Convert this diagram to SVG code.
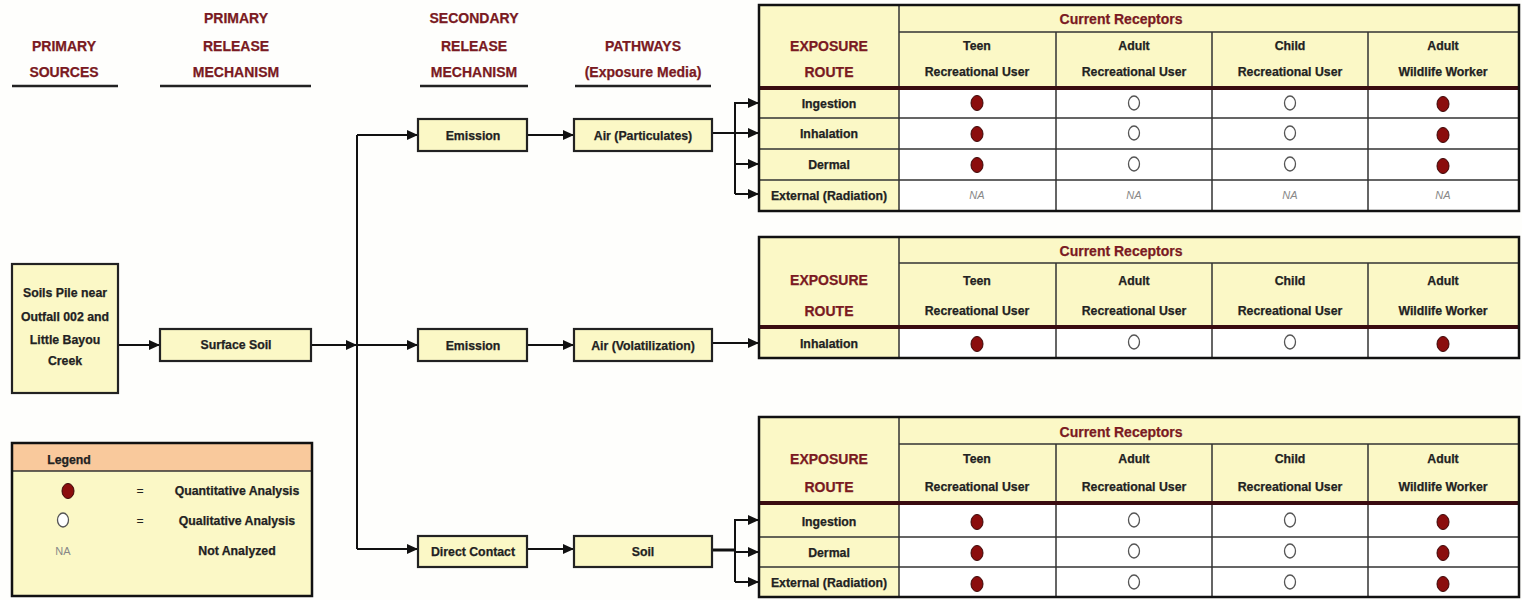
<svg xmlns="http://www.w3.org/2000/svg" width="1522" height="600" viewBox="0 0 1522 600">
<defs>
<style>
text{font-family:"Liberation Sans",Arial,sans-serif;font-weight:bold;font-size:12.3px;text-anchor:middle;fill:#222;stroke:#222;stroke-width:0.25}
.h{fill:#7a1a22;stroke:#7a1a22;font-size:14px}
.hl{stroke:#222;stroke-width:2.5}
.box{fill:#fbf8c6;stroke:#222;stroke-width:2.2}
.hdr{fill:#fbf8c6}
.cell{fill:#ffffff}
.grid{stroke:#333;stroke-width:1.5;fill:none}
.outer{stroke:#111;stroke-width:2.5;fill:none}
.thick{stroke:#3a0c10;stroke-width:4}
.cr{fill:#7a1a22;stroke:#7a1a22;font-size:14px}
.full{fill:#8b0d0d;stroke:#3a0505;stroke-width:1}
.open{fill:#fff;stroke:#555;stroke-width:1.3}
.na{font-weight:normal;font-style:italic;fill:#888;stroke:none;font-size:11px}
.eq{font-weight:normal;stroke:none}
.c{stroke:#111;stroke-width:2;fill:none}
.ca{stroke:#111;stroke-width:2;fill:none;marker-end:url(#arr)}
</style>
<marker id="arr" viewBox="0 0 10 10" refX="10" refY="5" markerWidth="5.5" markerHeight="5" orient="auto" markerUnits="strokeWidth" preserveAspectRatio="none">
<path d="M0,0 L10,5 L0,10 z" fill="#111"/>
</marker>
</defs>
<rect width="1522" height="600" fill="#fefefc"/>

<g id="headings">
<text class="h" x="64" y="51">PRIMARY</text>
<text class="h" x="64" y="77">SOURCES</text>
<line class="hl" x1="12" y1="86" x2="118" y2="86"/>
<text class="h" x="236" y="23">PRIMARY</text>
<text class="h" x="236" y="51">RELEASE</text>
<text class="h" x="236" y="77">MECHANISM</text>
<line class="hl" x1="160" y1="86" x2="311" y2="86"/>
<text class="h" x="474" y="23">SECONDARY</text>
<text class="h" x="474" y="51">RELEASE</text>
<text class="h" x="474" y="77">MECHANISM</text>
<line class="hl" x1="420" y1="86" x2="528" y2="86"/>
<text class="h" x="643" y="51">PATHWAYS</text>
<text class="h" x="643" y="77">(Exposure Media)</text>
<line class="hl" x1="575" y1="86" x2="711" y2="86"/>
</g>

<g id="connectors">
<line class="ca" x1="118" y1="345" x2="160" y2="345"/>
<line class="ca" x1="311" y1="345" x2="357" y2="345"/>
<path class="c" d="M357,135 V549"/>
<line class="ca" x1="357" y1="135" x2="418" y2="135"/>
<line class="ca" x1="357" y1="345" x2="418" y2="345"/>
<line class="ca" x1="357" y1="549" x2="418" y2="549"/>
<line class="ca" x1="527" y1="135" x2="574" y2="135"/>
<line class="ca" x1="527" y1="345" x2="574" y2="345"/>
<line class="ca" x1="527" y1="549" x2="574" y2="549"/>
<path class="c" d="M712,133 H735 M735,102 V194"/>
<line class="ca" x1="735" y1="103" x2="759" y2="103"/>
<line class="ca" x1="735" y1="133" x2="759" y2="133"/>
<line class="ca" x1="735" y1="164" x2="759" y2="164"/>
<line class="ca" x1="735" y1="194" x2="759" y2="194"/>
<line class="ca" x1="712" y1="343" x2="759" y2="343"/>
<path class="c" d="M712,550 H735" style="stroke-width:3"/>
<path class="c" d="M735,519 V582"/>
<line class="ca" x1="735" y1="520" x2="759" y2="520"/>
<line class="ca" x1="735" y1="552" x2="759" y2="552"/>
<line class="ca" x1="735" y1="582" x2="759" y2="582"/>
</g>

<g id="soils-pile">
<rect class="box" x="12" y="264" width="106" height="129"/>
<text x="65" y="297">Soils Pile near</text>
<text x="65" y="321">Outfall 002 and</text>
<text x="65" y="344">Little Bayou</text>
<text x="65" y="365">Creek</text>
</g>
<g id="surface-soil">
<rect class="box" x="160" y="329" width="151" height="32"/>
<text x="236" y="349">Surface Soil</text>
</g>
<g id="emission-1">
<rect class="box" x="418" y="119" width="109" height="32"/>
<text x="473" y="140">Emission</text>
</g>
<g id="air-particulates">
<rect class="box" x="574" y="119" width="138" height="32"/>
<text x="643" y="140">Air (Particulates)</text>
</g>
<g id="emission-2">
<rect class="box" x="418" y="329" width="109" height="32"/>
<text x="473" y="350">Emission</text>
</g>
<g id="air-volatilization">
<rect class="box" x="574" y="329" width="138" height="32"/>
<text x="643" y="350">Air (Volatilization)</text>
</g>
<g id="direct-contact">
<rect class="box" x="418" y="536" width="109" height="31"/>
<text x="473" y="556">Direct Contact</text>
</g>
<g id="soil">
<rect class="box" x="574" y="536" width="138" height="31"/>
<text x="643" y="556">Soil</text>
</g>

<g id="table-1">
<rect class="hdr" x="759" y="5" width="760" height="83"/>
<rect class="hdr" x="759" y="88" width="140" height="123"/>
<rect class="cell" x="899" y="88" width="620" height="123"/>
<path class="grid" d="M899,5 V211 M1056,32 V211 M1212,32 V211 M1368,32 V211 M899,32 H1519 M759,118 H1519 M759,149 H1519 M759,180 H1519"/>
<line class="thick" x1="759" y1="88" x2="1519" y2="88"/>
<rect class="outer" x="759" y="5" width="760" height="206"/>
<text class="cr" x="1121" y="24">Current Receptors</text>
<text class="h" x="829" y="51">EXPOSURE</text>
<text class="h" x="829" y="77">ROUTE</text>
<text x="977" y="50">Teen</text><text x="977" y="76">Recreational User</text>
<text x="1134" y="50">Adult</text><text x="1134" y="76">Recreational User</text>
<text x="1290" y="50">Child</text><text x="1290" y="76">Recreational User</text>
<text x="1443" y="50">Adult</text><text x="1443" y="76">Wildlife Worker</text>
<text x="829" y="108">Ingestion</text>
<text x="829" y="138">Inhalation</text>
<text x="829" y="169">Dermal</text>
<text x="829" y="200">External (Radiation)</text>
<ellipse class="full" cx="977" cy="103" rx="6" ry="7.5"/><ellipse class="open" cx="1134" cy="103" rx="5.5" ry="7"/><ellipse class="open" cx="1290" cy="103" rx="5.5" ry="7"/><ellipse class="full" cx="1443" cy="104" rx="6" ry="7.5"/>
<ellipse class="full" cx="977" cy="134" rx="6" ry="7.5"/><ellipse class="open" cx="1134" cy="133" rx="5.5" ry="7"/><ellipse class="open" cx="1290" cy="133" rx="5.5" ry="7"/><ellipse class="full" cx="1443" cy="135" rx="6" ry="7.5"/>
<ellipse class="full" cx="977" cy="165" rx="6" ry="7.5"/><ellipse class="open" cx="1134" cy="164" rx="5.5" ry="7"/><ellipse class="open" cx="1290" cy="164" rx="5.5" ry="7"/><ellipse class="full" cx="1443" cy="166" rx="6" ry="7.5"/>
<text class="na" x="977" y="199">NA</text><text class="na" x="1134" y="199">NA</text><text class="na" x="1290" y="199">NA</text><text class="na" x="1443" y="199">NA</text>
</g>

<g id="table-2">
<rect class="hdr" x="759" y="237" width="760" height="90"/>
<rect class="hdr" x="759" y="327" width="140" height="31"/>
<rect class="cell" x="899" y="327" width="620" height="31"/>
<path class="grid" d="M899,237 V358 M1056,263 V358 M1212,263 V358 M1368,263 V358 M899,263 H1519"/>
<line class="thick" x1="759" y1="327" x2="1519" y2="327"/>
<rect class="outer" x="759" y="237" width="760" height="121"/>
<text class="cr" x="1121" y="256">Current Receptors</text>
<text class="h" x="829" y="285">EXPOSURE</text>
<text class="h" x="829" y="316">ROUTE</text>
<text x="977" y="285">Teen</text><text x="977" y="315">Recreational User</text>
<text x="1134" y="285">Adult</text><text x="1134" y="315">Recreational User</text>
<text x="1290" y="285">Child</text><text x="1290" y="315">Recreational User</text>
<text x="1443" y="285">Adult</text><text x="1443" y="315">Wildlife Worker</text>
<text x="829" y="348">Inhalation</text>
<ellipse class="full" cx="977" cy="344" rx="6" ry="7.5"/><ellipse class="open" cx="1134" cy="342" rx="5.5" ry="7"/><ellipse class="open" cx="1290" cy="342" rx="5.5" ry="7"/><ellipse class="full" cx="1443" cy="344" rx="6" ry="7.5"/>
</g>

<g id="table-3">
<rect class="hdr" x="759" y="417" width="760" height="86"/>
<rect class="hdr" x="759" y="503" width="140" height="94"/>
<rect class="cell" x="899" y="503" width="620" height="94"/>
<path class="grid" d="M899,417 V597 M1056,444 V597 M1212,444 V597 M1368,444 V597 M899,444 H1519 M759,537 H1519 M759,567 H1519"/>
<line class="thick" x1="759" y1="503" x2="1519" y2="503"/>
<rect class="outer" x="759" y="417" width="760" height="180"/>
<text class="cr" x="1121" y="437">Current Receptors</text>
<text class="h" x="829" y="464">EXPOSURE</text>
<text class="h" x="829" y="492">ROUTE</text>
<text x="977" y="463">Teen</text><text x="977" y="491">Recreational User</text>
<text x="1134" y="463">Adult</text><text x="1134" y="491">Recreational User</text>
<text x="1290" y="463">Child</text><text x="1290" y="491">Recreational User</text>
<text x="1443" y="463">Adult</text><text x="1443" y="491">Wildlife Worker</text>
<text x="829" y="526">Ingestion</text>
<text x="829" y="557">Dermal</text>
<text x="829" y="587">External (Radiation)</text>
<ellipse class="full" cx="977" cy="522" rx="6" ry="7.5"/><ellipse class="open" cx="1134" cy="520" rx="5.5" ry="7"/><ellipse class="open" cx="1290" cy="520" rx="5.5" ry="7"/><ellipse class="full" cx="1443" cy="522" rx="6" ry="7.5"/>
<ellipse class="full" cx="977" cy="553" rx="6" ry="7.5"/><ellipse class="open" cx="1134" cy="551" rx="5.5" ry="7"/><ellipse class="open" cx="1290" cy="551" rx="5.5" ry="7"/><ellipse class="full" cx="1443" cy="553" rx="6" ry="7.5"/>
<ellipse class="full" cx="977" cy="584" rx="6" ry="7.5"/><ellipse class="open" cx="1134" cy="582" rx="5.5" ry="7"/><ellipse class="open" cx="1290" cy="582" rx="5.5" ry="7"/><ellipse class="full" cx="1443" cy="584" rx="6" ry="7.5"/>
</g>

<g id="legend">
<rect x="12" y="443" width="300" height="153" fill="#fbf8c6"/>
<rect x="12" y="443" width="300" height="28" fill="#f9c99c"/>
<line x1="12" y1="471" x2="312" y2="471" stroke="#333" stroke-width="1.5"/>
<rect class="outer" x="12" y="443" width="300" height="153"/>
<text x="69" y="464">Legend</text>
<ellipse class="full" cx="68" cy="491" rx="6" ry="7.5"/>
<text class="eq" x="140" y="495">=</text>
<text x="237" y="495">Quantitative Analysis</text>
<ellipse class="open" cx="63" cy="520" rx="5.5" ry="7"/>
<text class="eq" x="140" y="525">=</text>
<text x="237" y="525">Qualitative Analysis</text>
<text x="63" y="555" style="font-weight:normal;fill:#888;stroke:none;font-size:11px">NA</text>
<text x="237" y="555">Not Analyzed</text>
</g>
</svg>
